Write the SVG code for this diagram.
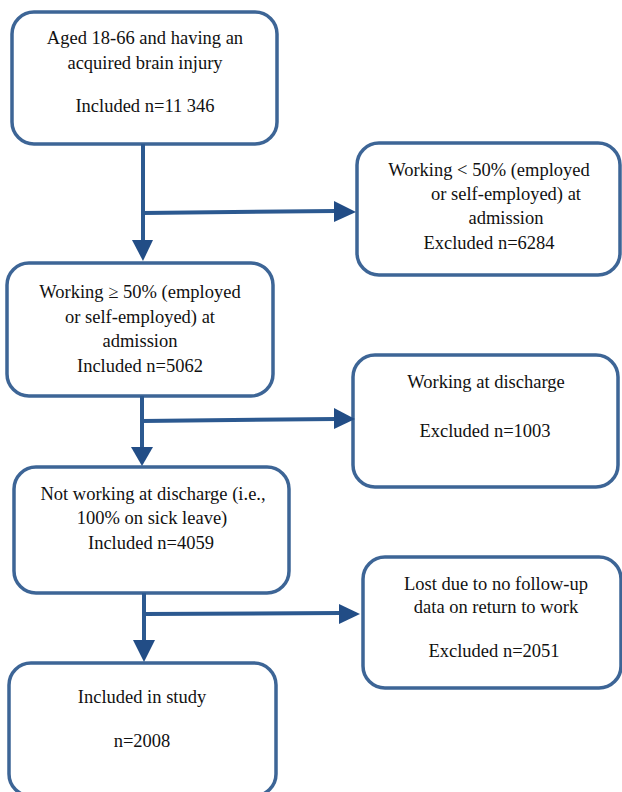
<svg xmlns="http://www.w3.org/2000/svg" width="622" height="792" viewBox="0 0 622 792">
<style>
.box{fill:#ffffff;stroke:#3d6596;stroke-width:3.5}
.t{font-family:'Liberation Serif','Tinos','Times New Roman','DejaVu Serif',Times,serif;font-size:18.5px;fill:#111;text-anchor:middle}
.ln{fill:none;stroke:#2c5990;stroke-width:4}
.ah{fill:#224d86}
</style>
<rect width="622" height="792" fill="#ffffff"/>
<g id="n1">
<rect class="box" x="12" y="12" width="265" height="132" rx="22"/>
<text class="t" x="145" y="44">Aged 18-66 and having an</text>
<text class="t" x="145" y="69">acquired brain injury</text>
<text class="t" x="145" y="112">Included n=11 346</text>
</g>
<g id="n2">
<rect class="box" x="357" y="143" width="263" height="132" rx="22"/>
<text class="t" x="489" y="176">Working &lt; 50% (employed</text>
<text class="t" x="506" y="200">or self-employed) at</text>
<text class="t" x="506" y="224">admission</text>
<text class="t" x="489" y="249">Excluded n=6284</text>
</g>
<g id="n3">
<rect class="box" x="7" y="263" width="266" height="133" rx="22"/>
<text class="t" x="140" y="298">Working ≥ 50% (employed</text>
<text class="t" x="140" y="323">or self-employed) at</text>
<text class="t" x="140" y="347">admission</text>
<text class="t" x="140" y="372">Included n=5062</text>
</g>
<g id="n4">
<rect class="box" x="353" y="355" width="265" height="132" rx="22"/>
<text class="t" x="486" y="388">Working at discharge</text>
<text class="t" x="485" y="437">Excluded n=1003</text>
</g>
<g id="n5">
<rect class="box" x="14" y="467" width="275" height="126" rx="22"/>
<text class="t" x="153" y="500">Not working at discharge (i.e.,</text>
<text class="t" x="152" y="524">100% on sick leave)</text>
<text class="t" x="151" y="549">Included n=4059</text>
</g>
<g id="n6">
<rect class="box" x="363" y="557" width="258" height="131" rx="22"/>
<text class="t" x="496" y="590">Lost due to no follow-up</text>
<text class="t" x="496" y="613">data on return to work</text>
<text class="t" x="494" y="657">Excluded n=2051</text>
</g>
<g id="n7">
<rect class="box" x="9" y="663" width="267" height="133" rx="22"/>
<text class="t" x="142" y="703">Included in study</text>
<text class="t" x="142" y="747">n=2008</text>
</g>
<g id="connectors">
<path class="ln" d="M143 144 V242"/>
<polygon class="ah" points="132,240 153,240 143,261"/>
<path class="ln" d="M143 213 L336 211"/>
<polygon class="ah" points="334,201 334,222 356,212"/>
<path class="ln" d="M142 396 V449"/>
<polygon class="ah" points="131,447 153,447 142,466"/>
<path class="ln" d="M142 421 L336 419"/>
<polygon class="ah" points="334,408 334,429 355,419"/>
<path class="ln" d="M144 593 V642"/>
<polygon class="ah" points="133,640 155,640 144,662"/>
<path class="ln" d="M144 614 L341 613"/>
<polygon class="ah" points="339,604 339,624 360,614"/>
</g>
</svg>
